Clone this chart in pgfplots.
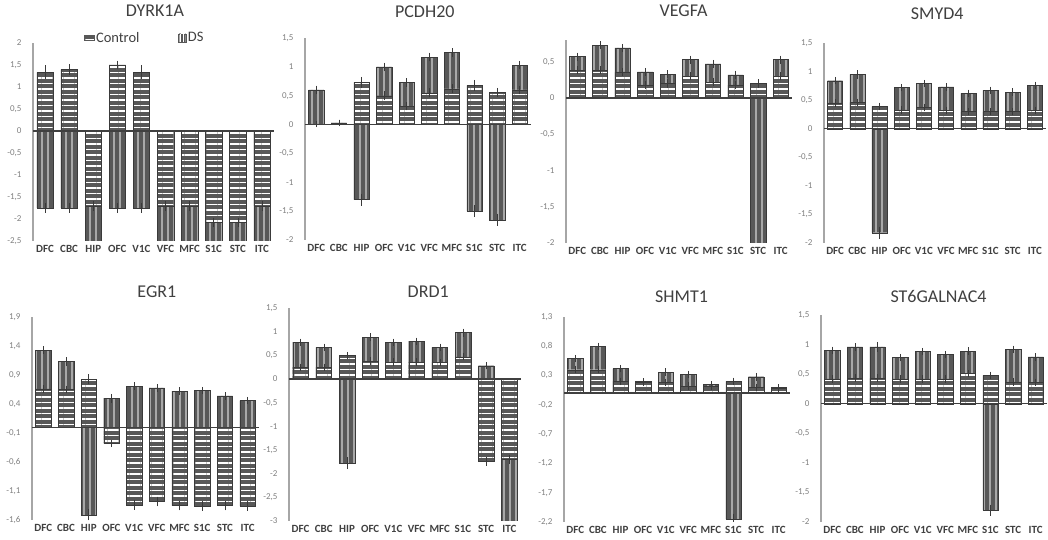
\documentclass[border=0pt]{standalone}
\usepackage{fontspec}
\setmainfont{Carlito}
\usepackage{pgfplots}
\pgfplotsset{compat=1.18}
\usepackage{pgfplotstable}
\usetikzlibrary{patterns.meta}

\definecolor{barfill}{HTML}{585858}
\definecolor{baredge}{HTML}{3A3A3A}
\definecolor{axgray}{HTML}{A6A6A6}
\definecolor{ticktext}{HTML}{808080}
\definecolor{labtext}{HTML}{404040}
\definecolor{dsline}{HTML}{A8A8A8}

% x = region index; c = Control, ce = its error; d = DS, de = its error
\pgfplotstableread{
x c ce d de
0 1.33 0.10 -1.75 0.05
1 1.40 0.06 -1.75 0.05
2 -1.70 0.05 -2.60 0.05
3 1.50 0.04 -1.75 0.05
4 1.33 0.10 -1.75 0.05
5 -1.70 0.05 -2.60 0.05
6 -1.70 0.05 -2.60 0.05
7 -2.08 0.05 -2.60 0.05
8 -2.08 0.05 -2.60 0.05
9 -1.70 0.05 -2.60 0.05
}\tDYRK

\pgfplotstableread{
x c ce d de
0 0.01 0.01 0.60 0.03
1 0.03 0.01 0.03 0.01
2 0.73 0.05 -1.30 0.06
3 0.50 0.03 1.00 0.03
4 0.32 0.03 0.73 0.03
5 0.55 0.03 1.17 0.03
6 0.62 0.03 1.25 0.03
7 0.68 0.05 -1.50 0.06
8 0.56 0.03 -1.65 0.06
9 0.60 0.03 1.03 0.03
}\tPCDH

\pgfplotstableread{
x c ce d de
0 0.38 0.02 0.57 0.02
1 0.38 0.02 0.73 0.02
2 0.36 0.02 0.69 0.02
3 0.18 0.02 0.36 0.02
4 0.20 0.02 0.33 0.02
5 0.30 0.02 0.53 0.02
6 0.22 0.02 0.47 0.02
7 0.18 0.02 0.32 0.02
8 0.20 0.02 -2.10 0.05
9 0.30 0.02 0.53 0.02
}\tVEGF

\pgfplotstableread{
x c ce d de
0 0.45 0.02 0.84 0.02
1 0.46 0.02 0.95 0.03
2 0.39 0.02 -1.82 0.06
3 0.33 0.02 0.72 0.02
4 0.37 0.02 0.79 0.02
5 0.32 0.02 0.73 0.02
6 0.30 0.02 0.62 0.02
7 0.30 0.02 0.67 0.02
8 0.30 0.02 0.64 0.02
9 0.32 0.02 0.76 0.02
}\tSMYD

\pgfplotstableread{
x c ce d de
0 0.66 0.02 1.33 0.02
1 0.65 0.02 1.13 0.03
2 0.83 0.04 -1.51 0.05
3 -0.28 0.02 0.50 0.03
4 -1.34 0.04 0.71 0.02
5 -1.28 0.04 0.68 0.02
6 -1.35 0.04 0.62 0.02
7 -1.36 0.04 0.63 0.02
8 -1.35 0.04 0.54 0.02
9 -1.36 0.04 0.46 0.02
}\tEGR

\pgfplotstableread{
x c ce d de
0 0.25 0.02 0.78 0.02
1 0.25 0.02 0.67 0.02
2 0.50 0.02 -1.78 0.07
3 0.38 0.02 0.88 0.03
4 0.36 0.02 0.78 0.02
5 0.36 0.02 0.80 0.02
6 0.35 0.02 0.67 0.02
7 0.47 0.02 0.98 0.03
8 -1.74 0.04 0.28 0.02
9 -1.70 0.04 -3.10 0.05
}\tDRD

\pgfplotstableread{
x c ce d de
0 0.40 0.02 0.59 0.02
1 0.40 0.02 0.80 0.02
2 0.20 0.02 0.42 0.02
3 0.18 0.02 0.20 0.01
4 0.18 0.02 0.36 0.02
5 0.12 0.02 0.32 0.02
6 0.12 0.02 0.15 0.01
7 0.20 0.02 -2.15 0.05
8 0.10 0.02 0.28 0.02
9 0.08 0.02 0.10 0.01
}\tSHMT

\pgfplotstableread{
x c ce d de
0 0.42 0.02 0.90 0.02
1 0.43 0.02 0.96 0.02
2 0.43 0.02 0.96 0.04
3 0.42 0.02 0.78 0.02
4 0.42 0.02 0.88 0.02
5 0.42 0.02 0.83 0.02
6 0.51 0.02 0.89 0.02
7 0.48 0.02 -1.80 0.05
8 0.37 0.02 0.92 0.02
9 0.36 0.02 0.79 0.02
}\tSTG

\pgfplotsset{
  panel/.style={
    scale only axis,
    xmin=-0.5, xmax=9.5,
    axis on top,
    axis y line*=left,
    axis x line*=bottom,
    x axis line style={draw=none},
    y axis line style={axgray, line width=1.4pt},
    xtick={0,...,9},
    xticklabels={DFC,CBC,HIP,OFC,V1C,VFC,MFC,S1C,STC,ITC},
    major tick length=0pt,
    xticklabel style={font=\fontsize{11}{11}\selectfont\bfseries, text=labtext, yshift=-1pt},
    yticklabel style={font=\fontsize{9}{9}\selectfont, text=ticktext, xshift=-8pt},
    /pgf/number format/use comma,
    /pgf/number format/1000 sep={},
    /pgf/number format/assume math mode=true,
    extra y ticks={0}, extra y tick labels={},
    extra y tick style={grid=major, major grid style={draw=labtext, line width=1.4pt}},
    title style={font=\fontsize{18}{18}\selectfont, text=labtext, anchor=center},
  },
  ctrl/.style={ybar, bar width=0.68, bar shift=0pt, fill=barfill, draw=baredge, line width=0.4pt,
    postaction={pattern={Lines[angle=0,distance=5.5pt,line width=1.6pt]}, pattern color=white}},
  ds/.style={ybar, bar width=0.68, bar shift=0pt, fill=barfill, draw=baredge, line width=0.4pt,
    postaction={pattern={Lines[angle=90,distance=6pt,line width=1.3pt]}, pattern color=dsline}},
  err/.style={draw=none, mark=none, forget plot,
    error bars/.cd, y dir=both, y explicit,
    error bar style={draw=baredge, line width=0.6pt},
    error mark options={draw=baredge, line width=0.6pt, mark size=2.6pt}},
}

\begin{document}
\begin{tikzpicture}
\useasboundingbox (0,0) rectangle (1048pt,540pt);

% ---- DYRK1A
\begin{axis}[panel, at={(33pt,299pt)}, anchor=south west, width=241pt, height=198pt,
  ymin=-2.5, ymax=2, ytick={-2.5,-2,-1.5,-1,-0.5,0,0.5,1,1.5,2},
  title={DYRK1A}, title style={at={(0.506,1)}, yshift=26pt},
  reverse legend,
  legend style={draw=none, fill=none, at={(0.463,1)}, anchor=center, yshift=5pt,
    font=\fontsize{14.5}{14.5}\selectfont, text=labtext, legend columns=2,
    /tikz/every even column/.append style={column sep=36pt}}]
\addplot[ds, legend image code/.code={\fill[barfill] (0pt,-4pt) rectangle (8pt,4pt);
  \draw[white, line width=0.8pt] (2.7pt,-4pt) -- (2.7pt,4pt) (5.3pt,-4pt) -- (5.3pt,4pt);}]
  table[x=x, y=d] {\tDYRK};
\addlegendentry{DS}
\addplot[err] table[x=x, y=d, y error=de] {\tDYRK};
\addplot[ctrl, legend image code/.code={\fill[barfill] (0pt,-2.5pt) rectangle (10pt,2.5pt);}]
  table[x=x, y=c] {\tDYRK};
\addlegendentry{Control}
\addplot[err] table[x=x, y=c, y error=ce] {\tDYRK};
\end{axis}

% ---- PCDH20
\begin{axis}[panel, at={(305pt,300pt)}, anchor=south west, width=226pt, height=202pt,
  ymin=-2, ymax=1.5, ytick={-2,-1.5,-1,-0.5,0,0.5,1,1.5},
  title={PCDH20}, title style={at={(0.53,1)}, yshift=20pt}]
\addplot[ds] table[x=x, y=d] {\tPCDH};
\addplot[err] table[x=x, y=d, y error=de] {\tPCDH};
\addplot[ctrl] table[x=x, y=c] {\tPCDH};
\addplot[err] table[x=x, y=c, y error=ce] {\tPCDH};
\end{axis}

% ---- VEGFA
\begin{axis}[panel, at={(566pt,297pt)}, anchor=south west, width=226pt, height=203pt,
  ymin=-2, ymax=0.8, ytick={-2,-1.5,-1,-0.5,0,0.5},
  title={VEGFA}, title style={at={(0.52,1)}, yshift=23pt}]
\addplot[ds] table[x=x, y=d] {\tVEGF};
\addplot[err] table[x=x, y=d, y error=de] {\tVEGF};
\addplot[ctrl] table[x=x, y=c] {\tVEGF};
\addplot[err] table[x=x, y=c, y error=ce] {\tVEGF};
\end{axis}

% ---- SMYD4
\begin{axis}[panel, at={(824pt,297pt)}, anchor=south west, width=222pt, height=200pt,
  ymin=-2, ymax=1.5, ytick={-2,-1.5,-1,-0.5,0,0.5,1,1.5},
  title={SMYD4}, title style={at={(0.51,1)}, yshift=23pt}]
\addplot[ds] table[x=x, y=d] {\tSMYD};
\addplot[err] table[x=x, y=d, y error=de] {\tSMYD};
\addplot[ctrl] table[x=x, y=c] {\tSMYD};
\addplot[err] table[x=x, y=c, y error=ce] {\tSMYD};
\end{axis}

% ---- EGR1
\begin{axis}[panel, at={(32pt,20pt)}, anchor=south west, width=227pt, height=203pt,
  ymin=-1.6, ymax=1.9, ytick={-1.6,-1.1,-0.6,-0.1,0.4,0.9,1.4,1.9},
  title={EGR1}, title style={at={(0.55,1)}, yshift=19pt}]
\addplot[ds] table[x=x, y=d] {\tEGR};
\addplot[err] table[x=x, y=d, y error=de] {\tEGR};
\addplot[ctrl] table[x=x, y=c] {\tEGR};
\addplot[err] table[x=x, y=c, y error=ce] {\tEGR};
\end{axis}

% ---- DRD1
\begin{axis}[panel, at={(289pt,19pt)}, anchor=south west, width=232pt, height=213pt,
  ymin=-3, ymax=1.5, ytick={-3,-2.5,-2,-1.5,-1,-0.5,0,0.5,1,1.5},
  title={DRD1}, title style={at={(0.60,1)}, yshift=10pt}]
\addplot[ds] table[x=x, y=d] {\tDRD};
\addplot[err] table[x=x, y=d, y error=de] {\tDRD};
\addplot[ctrl] table[x=x, y=c] {\tDRD};
\addplot[err] table[x=x, y=c, y error=ce] {\tDRD};
\end{axis}

% ---- SHMT1
\begin{axis}[panel, at={(564pt,18pt)}, anchor=south west, width=226pt, height=205pt,
  ymin=-2.2, ymax=1.3, ytick={-2.2,-1.7,-1.2,-0.7,-0.2,0.3,0.8,1.3},
  title={SHMT1}, title style={at={(0.52,1)}, yshift=14pt}]
\addplot[ds] table[x=x, y=d] {\tSHMT};
\addplot[err] table[x=x, y=d, y error=de] {\tSHMT};
\addplot[ctrl] table[x=x, y=c] {\tSHMT};
\addplot[err] table[x=x, y=c, y error=ce] {\tSHMT};
\end{axis}

% ---- ST6GALNAC4
\begin{axis}[panel, at={(821pt,18pt)}, anchor=south west, width=226pt, height=207pt,
  ymin=-2, ymax=1.5, ytick={-2,-1.5,-1,-0.5,0,0.5,1,1.5},
  title={ST6GALNAC4}, title style={at={(0.52,1)}, yshift=13pt}]
\addplot[ds] table[x=x, y=d] {\tSTG};
\addplot[err] table[x=x, y=d, y error=de] {\tSTG};
\addplot[ctrl] table[x=x, y=c] {\tSTG};
\addplot[err] table[x=x, y=c, y error=ce] {\tSTG};
\end{axis}
\end{tikzpicture}
\end{document}
